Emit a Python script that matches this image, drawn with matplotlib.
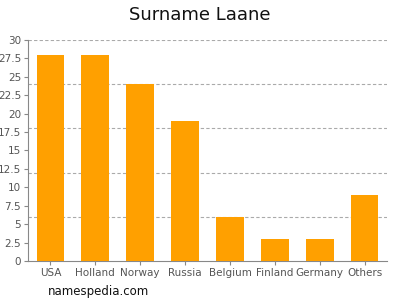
import matplotlib
matplotlib.use("Agg")
import matplotlib.pyplot as plt
import numpy as np

# data
countries = ["USA", "Holland", "Norway", "Russia", "Belgium", "Finland", "Germany", "Others"]
counts = [28, 28, 24, 19, 6, 3, 3, 9]
y_ticks = [0, 2.5, 5, 7.5, 10, 12.5, 15, 17.5, 20, 22.5, 25, 27.5, 30]
y_tick_labels = ["0", "2.5", "5", "7.5", "10", "12.5", "15", "17.5", "20", "22.5", "25", "27.5", "30"]
grid_levels = [6, 12, 18, 24, 30]

fig = plt.figure(figsize=(4, 3), dpi=100)
ax = fig.add_axes([0.07, 0.13, 0.8975, 0.7367])

x = np.arange(len(countries))
ax.bar(x, counts, width=0.62, color="#FFA000", zorder=3)

for g in grid_levels:
    ax.axhline(g, color="#aaaaaa", linestyle=(0, (3, 2)), linewidth=0.8, zorder=1)

ax.set_xlim(-0.5, 7.5)
ax.set_ylim(0, 30)
ax.set_xticks(x)
ax.set_xticklabels(countries)
ax.set_yticks(y_ticks)
ax.set_yticklabels(y_tick_labels)

for s in ["top", "right"]:
    ax.spines[s].set_visible(False)
for s in ["left", "bottom"]:
    ax.spines[s].set_color("#888888")
    ax.spines[s].set_linewidth(0.8)

ax.tick_params(axis="both", colors="#888888", labelcolor="#555555", labelsize=7.5,
               length=3, width=0.8, pad=2)

fig.text(0.5, 0.95, "Surname Laane", ha="center", va="center", fontsize=13, color="#111111")
fig.text(0.12, 0.03, "namespedia.com", ha="left", va="center", fontsize=8.5, color="#111111")

fig.savefig("out.png", dpi=100)
